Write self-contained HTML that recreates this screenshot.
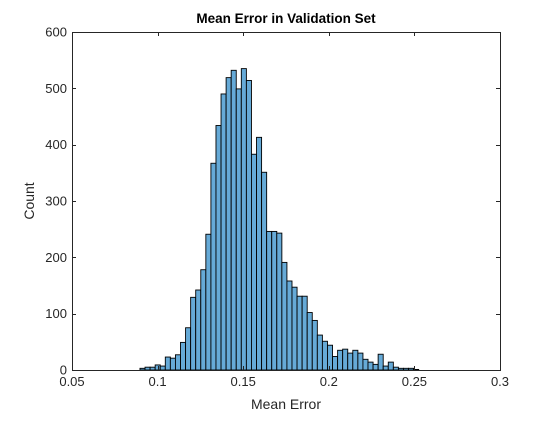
<!DOCTYPE html>
<html><head><meta charset="utf-8"><style>
body{margin:0;background:#fff;}
svg text{font-family:"Liberation Sans",sans-serif;}
</style></head><body>
<svg id="chart" width="552" height="416" viewBox="0 0 552 416" xmlns="http://www.w3.org/2000/svg">
<rect x="0" y="0" width="552" height="416" fill="#fff"/>
<text x="286" y="23" text-anchor="middle" font-size="13.5" font-weight="bold" fill="#000">Mean Error in Validation Set</text>
<g id="bars"></g>
<g id="axes"></g>
<text x="286" y="409" text-anchor="middle" font-size="14" fill="#262626">Mean Error</text>
<text transform="translate(34,201) rotate(-90)" text-anchor="middle" font-size="14" fill="#262626">Count</text>
</svg>
<script>
const binStart = 0.0897;
const binWidth = 0.00296;
const counts = [3,5,5,9,7,23,21,27,49,75,129,142,178,241,367,434,490,519,532,499,535,514,383,413,351,246,246,243,191,158,147,131,131,102,88,62,51,44,24,35,37,30,35,30,19,14,10,28,7,14,5,3,3,3,1];
const xTicks = [0.05,0.1,0.15,0.2,0.25,0.3];
const xTickLabels = ["0.05","0.1","0.15","0.2","0.25","0.3"];
const yTicks = [0,100,200,300,400,500,600];
const yTickLabels = ["0","100","200","300","400","500","600"];

const L=72,R=500,T=32,B=370;
const xMin=0.05,xMax=0.3,yMin=0,yMax=600;
function xs(v){return L+(v-xMin)/(xMax-xMin)*(R-L);}
function ys(v){return B-(v-yMin)/(yMax-yMin)*(B-T);}
const NS="http://www.w3.org/2000/svg";
const bars=document.getElementById('bars');
counts.forEach((c,i)=>{
  const x0=xs(binStart+i*binWidth), x1=xs(binStart+(i+1)*binWidth);
  const r=document.createElementNS(NS,'rect');
  r.setAttribute('x',x0);r.setAttribute('y',ys(c));
  r.setAttribute('width',x1-x0);r.setAttribute('height',ys(0)-ys(c));
  r.setAttribute('fill','rgb(102,170,215)');r.setAttribute('stroke','#000');r.setAttribute('stroke-width','0.9');
  
  
  bars.appendChild(r);
});
const ax=document.getElementById('axes');
function line(x1,y1,x2,y2,name){
  const l=document.createElementNS(NS,'line');
  l.setAttribute('x1',x1);l.setAttribute('y1',y1);l.setAttribute('x2',x2);l.setAttribute('y2',y2);
  l.setAttribute('stroke','#262626');l.setAttribute('stroke-width','1');
  
  
  ax.appendChild(l);
}
function text(x,y,s,anchor,name){
  const t=document.createElementNS(NS,'text');
  t.setAttribute('x',x);t.setAttribute('y',y);t.setAttribute('text-anchor',anchor);
  t.setAttribute('font-size','13');t.setAttribute('fill','#262626');t.textContent=s;
  
  
  ax.appendChild(t);
}
const box=document.createElementNS(NS,'rect');
box.setAttribute('x',L+0.5);box.setAttribute('y',T+0.5);box.setAttribute('width',R-L);box.setAttribute('height',B-T);
box.setAttribute('fill','none');box.setAttribute('stroke','#262626');


ax.appendChild(box);
xTicks.forEach((v,i)=>{
  const x=Math.round(xs(v))+0.5;
  line(x,B,x,B-4,'x-tick');line(x,T,x,T+4,'x-tick-top');
  text(xs(v),386,xTickLabels[i],'middle','x-tick-label');
});
yTicks.forEach((v,i)=>{
  const y=Math.round(ys(v))+0.5;
  line(L,y,L+4,y,'y-tick');line(R,y,R-4,y,'y-tick-right');
  text(L-5,ys(v)+4.5,yTickLabels[i],'end','y-tick-label');
});
</script>
</body></html>
